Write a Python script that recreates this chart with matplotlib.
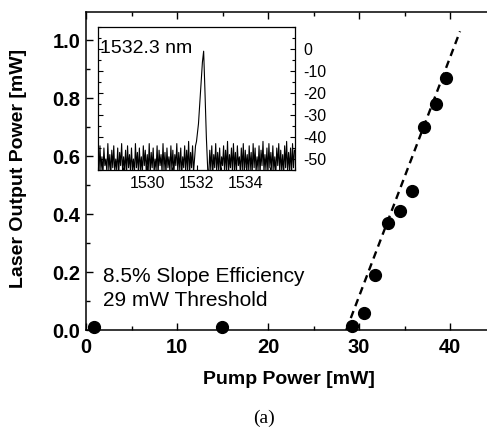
import numpy as np
import matplotlib
matplotlib.use("Agg")
import matplotlib.pyplot as plt
from matplotlib.ticker import MultipleLocator

plt.rcParams["axes.unicode_minus"] = False

# ---- main data: pump power vs laser output ----
pump_mw = [0.9, 14.9, 29.2, 30.5, 31.8, 33.2, 34.5, 35.8, 37.1, 38.5, 39.6]
laser_mw = [0.01, 0.01, 0.015, 0.06, 0.19, 0.37, 0.41, 0.48, 0.70, 0.78, 0.87]

# linear fit line (8.5% slope, 29 mW threshold)
fit_x = [28.6, 41.1]
fit_y = [0.0, 1.03]

x_ticks = [0, 10, 20, 30, 40]
y_ticks = [0.0, 0.2, 0.4, 0.6, 0.8, 1.0]

# ---- inset spectrum (dB) ----
noise_left = [
    -47, -56, -44, -55, -49, -57, -45, -53, -50, -56, -43, -55, -48, -57, -46, -54, -44, -56, -50, -55,
    -45, -57, -47, -53, -43, -56, -49, -55, -46, -57, -44, -54, -48, -56, -45, -55, -50, -57, -43, -54,
    -47, -56, -45, -55, -49, -57, -44, -53, -46, -56, -48, -55, -43, -57, -47, -54, -45, -56, -50, -55,
    -44, -57, -46, -53, -48, -56, -43, -55, -47, -57, -45, -54, -49, -56, -44, -55, -46, -57, -48, -53,
    -43, -56, -47, -55, -45, -57, -49, -54, -44, -56, -46, -55, -42, -57, -47, -54, -44, -56]
peak_wl = [1531.92, 1531.96, 1532.00, 1532.08, 1532.16, 1532.24, 1532.29, 1532.34, 1532.40, 1532.46, 1532.50]
peak_db = [-50, -44, -42, -34, -20, -6, -1, -18, -40, -56, -57]
noise_right = [
    -46, -55, -44, -57, -48, -54, -43, -56, -47, -55, -45, -57, -49, -53, -44, -56, -46, -55, -42, -57,
    -48, -54, -45, -56, -43, -55, -47, -57, -44, -53, -49, -56, -45, -55, -43, -57, -46, -54, -48, -56,
    -44, -55, -47, -57, -43, -54, -45, -56, -49, -55, -44, -57, -46, -53, -42, -56, -48, -55, -45, -57,
    -43, -54, -47, -56, -44, -55, -49, -57, -45, -53, -43, -56, -46, -55, -48, -57, -44, -54, -42, -56,
    -47, -55, -45, -57, -43, -54, -46]
inset_xticks = [1530, 1532, 1534]
inset_yticks = [0, -10, -20, -30, -40, -50]

wl_left = np.linspace(1528.0, 1531.88, len(noise_left))
wl_right = np.linspace(1532.54, 1535.98, len(noise_right))
spec_wl = np.concatenate([wl_left, peak_wl, wl_right])
spec_db = np.concatenate([noise_left, peak_db, noise_right])

W, H = 487, 428
fig = plt.figure(figsize=(W / 100, H / 100), dpi=100)
sans = "Liberation Sans"

ax = fig.add_axes([86 / W, 1 - 330 / H, 409.5 / W, 318 / H])
ax.plot(fit_x, fit_y, color="black", lw=1.7, ls=(0, (3.2, 2.2)), zorder=2)
ax.plot(pump_mw, laser_mw, "o", color="black", ms=8.5, clip_on=False, zorder=3)
ax.set_xlim(0, 45)
ax.set_ylim(0, 1.0966)
ax.set_xticks(x_ticks)
ax.set_yticks(y_ticks)
ax.set_yticklabels([f"{v:.1f}" for v in y_ticks])
ax.xaxis.set_minor_locator(MultipleLocator(5))
ax.yaxis.set_minor_locator(MultipleLocator(0.1))
ax.tick_params(which="both", direction="in", top=True, right=False, width=1.0)
ax.tick_params(which="major", length=5)
ax.tick_params(which="minor", length=3)
ax.tick_params(axis="y", pad=4)
ax.tick_params(axis="x", pad=6)
for lab in ax.get_xticklabels() + ax.get_yticklabels():
    lab.set_fontfamily(sans)
    lab.set_fontweight("bold")
    lab.set_fontsize(14.5)
for s in ["left", "bottom", "top"]:
    ax.spines[s].set_linewidth(1.1)
ax.spines["right"].set_visible(False)

fig.text(19 / W, 1 - 168 / H, "Laser Output Power [mW]", rotation=90,
         ha="center", va="center", fontsize=14, fontweight="bold", family=sans)
fig.text(289 / W, 1 - 380 / H, "Pump Power [mW]", ha="center", va="center",
         fontsize=14, fontweight="bold", family=sans)
fig.text(264 / W, 1 - 418 / H, "(a)", ha="center", va="center",
         fontsize=14, family="Liberation Serif")

fig.text(103 / W, 1 - 277 / H, "8.5% Slope Efficiency", ha="left", va="center",
         fontsize=15, family=sans)
fig.text(103 / W, 1 - 300 / H, "29 mW Threshold", ha="left", va="center",
         fontsize=15, family=sans)

# ---- inset ----
ins = fig.add_axes([98 / W, 1 - 170 / H, 197 / W, 143 / H])
ins.plot(spec_wl, spec_db, color="black", lw=0.8)
ins.set_xlim(1528, 1536)
ins.set_ylim(-55, 10)
ins.set_xticks(inset_xticks)
ins.set_yticks(inset_yticks)
ins.xaxis.set_minor_locator(MultipleLocator(1))
ins.yaxis.set_minor_locator(MultipleLocator(5))
ins.yaxis.tick_right()
ins.tick_params(which="both", direction="in", left=True, right=True, top=False,
                labelleft=False, labelright=True, width=0.8)
ins.tick_params(which="major", length=3.5)
ins.tick_params(which="minor", length=2)
ins.tick_params(axis="x", pad=4)
ins.tick_params(axis="y", pad=6)
for lab in ins.get_xticklabels() + ins.get_yticklabels():
    lab.set_fontfamily(sans)
    lab.set_fontsize(11.5)
for s in ins.spines.values():
    s.set_linewidth(0.9)
ins.text(0.01, 0.85, "1532.3 nm", transform=ins.transAxes, ha="left", va="center",
         fontsize=14, family=sans)

fig.savefig("out.png", dpi=100)
